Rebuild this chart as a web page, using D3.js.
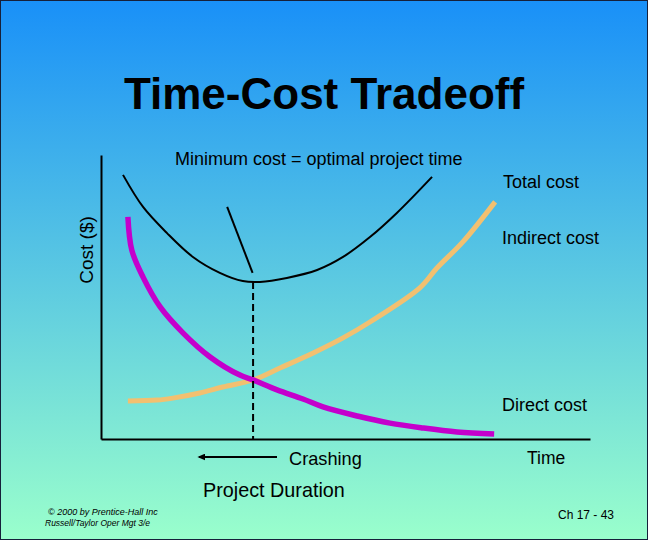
<!DOCTYPE html>
<html>
<head>
<meta charset="utf-8">
<script src="https://cdn.jsdelivr.net/npm/d3@7"></script>
<style>
body{margin:0;padding:0;overflow:hidden;}
text{font-family:"Liberation Sans",Arial,sans-serif;}
</style>
</head>
<body>
<svg width="648" height="540"></svg>
<script>
// dane (czas 0-100, koszt 0-100)
var czasCalkowity = [4.5, 8.6, 13.5, 18.8, 24.3, 29, 32.5, 38, 44.2, 49.5, 55, 60.5, 67.7];
var kosztCalkowity = [93, 81.7, 72.5, 64.1, 58.5, 55.6, 55.3, 56.7, 59.5, 64.1, 71.1, 79.6, 92.3];

var czasBezposredni = [5.5, 6.3, 8.6, 12.1, 16.8, 22.3, 28.4, 31.1, 36, 41.3, 45.4, 52.4, 59.1, 65.8, 72.8, 80.4];
var kosztBezposredni = [78.2, 66.5, 57, 46.5, 37.3, 28.9, 22.5, 20.8, 17.3, 14.1, 11.3, 8.1, 5.6, 3.9, 2.5, 1.8];

var czasPosredni = [5.5, 11.5, 14.7, 20.2, 24.9, 31.1, 36.6, 43.4, 49.5, 55, 65.2, 68.7, 74, 80.6];
var kosztPosredni = [13.4, 13.7, 14.4, 16.2, 18.3, 20.8, 25, 30.3, 35.6, 41.2, 53.2, 60.2, 69.4, 83.5];

var optimum = {czas: 31.1, koszt: 55.3};
var wskaznik = [{czas: 25.8, koszt: 81.7}, {czas: 31, koszt: 58.5}];

var svg = d3.select("svg");

// tlo - gradient
var defs = svg.append("defs");
var grad = defs.append("linearGradient")
	.attr("id", "tlo")
	.attr("x1", 0).attr("y1", 0)
	.attr("x2", 0).attr("y2", 1);
grad.append("stop").attr("offset", "0%").attr("stop-color", "#1990f8");
grad.append("stop").attr("offset", "100%").attr("stop-color", "#9affcc");

svg.append("rect")
	.attr("width", 648)
	.attr("height", 540)
	.style("fill", "url(#tlo)");
svg.append("rect")
	.attr("x", 0.5).attr("y", 0.5)
	.attr("width", 647).attr("height", 539)
	.style("fill", "none")
	.style("stroke", "#16203a")
	.style("stroke-width", "1px");

var x = d3.scaleLinear().domain([0, 100]).range([101, 590]);
var y = d3.scaleLinear().domain([0, 100]).range([439, 155]);

// osie bez podzialki
svg.append("g")
	.attr("transform", "translate(0," + y(0) + ")")
	.call(d3.axisBottom(x).tickValues([]).tickSizeOuter(0))
	.select(".domain").style("stroke", "black").style("stroke-width", "2px");
svg.append("g")
	.attr("transform", "translate(" + x(0) + ",0)")
	.call(d3.axisLeft(y).tickValues([]).tickSizeOuter(0))
	.select(".domain").style("stroke", "black").style("stroke-width", "2px");

function punkty(cz, ko){
	return cz.map(function(d, i){ return [d, ko[i]]; });
}
var linia = d3.line()
	.x(function(d){ return x(d[0]); })
	.y(function(d){ return y(d[1]); })
	.curve(d3.curveCatmullRom);

svg.append("path")//koszt posredni
	.attr("d", linia(punkty(czasPosredni, kosztPosredni)))
	.style("fill", "none")
	.style("stroke", "#f2c070")
	.style("stroke-width", "5px");

svg.append("path")//koszt bezposredni
	.attr("d", linia(punkty(czasBezposredni, kosztBezposredni)))
	.style("fill", "none")
	.style("stroke", "#c400cc")
	.style("stroke-width", "5.5px");

svg.append("path")//koszt calkowity
	.attr("d", linia(punkty(czasCalkowity, kosztCalkowity)))
	.style("fill", "none")
	.style("stroke", "black")
	.style("stroke-width", "2px");

// linia przerywana w minimum
svg.append("line")
	.attr("x1", x(optimum.czas)).attr("y1", y(optimum.koszt))
	.attr("x2", x(optimum.czas)).attr("y2", y(0))
	.style("stroke", "black")
	.style("stroke-width", "2px")
	.style("stroke-dasharray", "7,4");

// wskaznik do minimum
svg.append("line")
	.attr("x1", x(wskaznik[0].czas)).attr("y1", y(wskaznik[0].koszt))
	.attr("x2", x(wskaznik[1].czas)).attr("y2", y(wskaznik[1].koszt))
	.style("stroke", "black")
	.style("stroke-width", "2px");

// strzalka "Crashing"
defs.append("marker")
	.attr("id", "grot")
	.attr("viewBox", "0 0 10 10")
	.attr("refX", 8).attr("refY", 5)
	.attr("markerWidth", 4).attr("markerHeight", 3.5)
	.attr("orient", "auto")
	.attr("preserveAspectRatio", "none")
	.append("path")
	.attr("d", "M0,0 L10,5 L0,10 Z")
	.style("fill", "black");
svg.append("line")
	.attr("x1", 277).attr("y1", 457)
	.attr("x2", 199).attr("y2", 457)
	.attr("marker-end", "url(#grot)")
	.style("stroke", "black")
	.style("stroke-width", "2px");

function napis(t, px, py, rozmiar, opcje){
	opcje = opcje || {};
	var el = svg.append("text")
		.attr("x", px)
		.attr("y", py)
		.attr("fill", opcje.kolor || "black")
		.attr("font-size", rozmiar)
		.attr("text-anchor", opcje.anchor || "start")
		.attr("font-weight", opcje.bold ? "bold" : "normal")
		.attr("font-style", opcje.italic ? "italic" : "normal")
		.text(t);
	if(opcje.obrot)
		el.attr("transform", "rotate(" + opcje.obrot + "," + px + "," + py + ")");
	return el;
}

napis("Time-Cost Tradeoff", 324, 109, 44, {anchor: "middle", bold: true});
napis("Minimum cost = optimal project time", 175, 165, 18);
napis("Total cost", 503, 188, 18);
napis("Indirect cost", 502, 244, 18);
napis("Direct cost", 502, 411, 18);
napis("Crashing", 289, 465, 18.2);
napis("Time", 527, 464, 17.5);
napis("Project Duration", 203, 497, 19.8);
napis("Cost ($)", 93, 250, 19, {anchor: "middle", obrot: -90});
napis("\u00a9 2000 by Prentice-Hall Inc", 48, 515, 9, {italic: true});
napis("Russell/Taylor  Oper Mgt 3/e", 45, 526, 8.5, {italic: true});
napis("Ch 17 - 43", 558, 519, 12);
</script>
</body>
</html>
